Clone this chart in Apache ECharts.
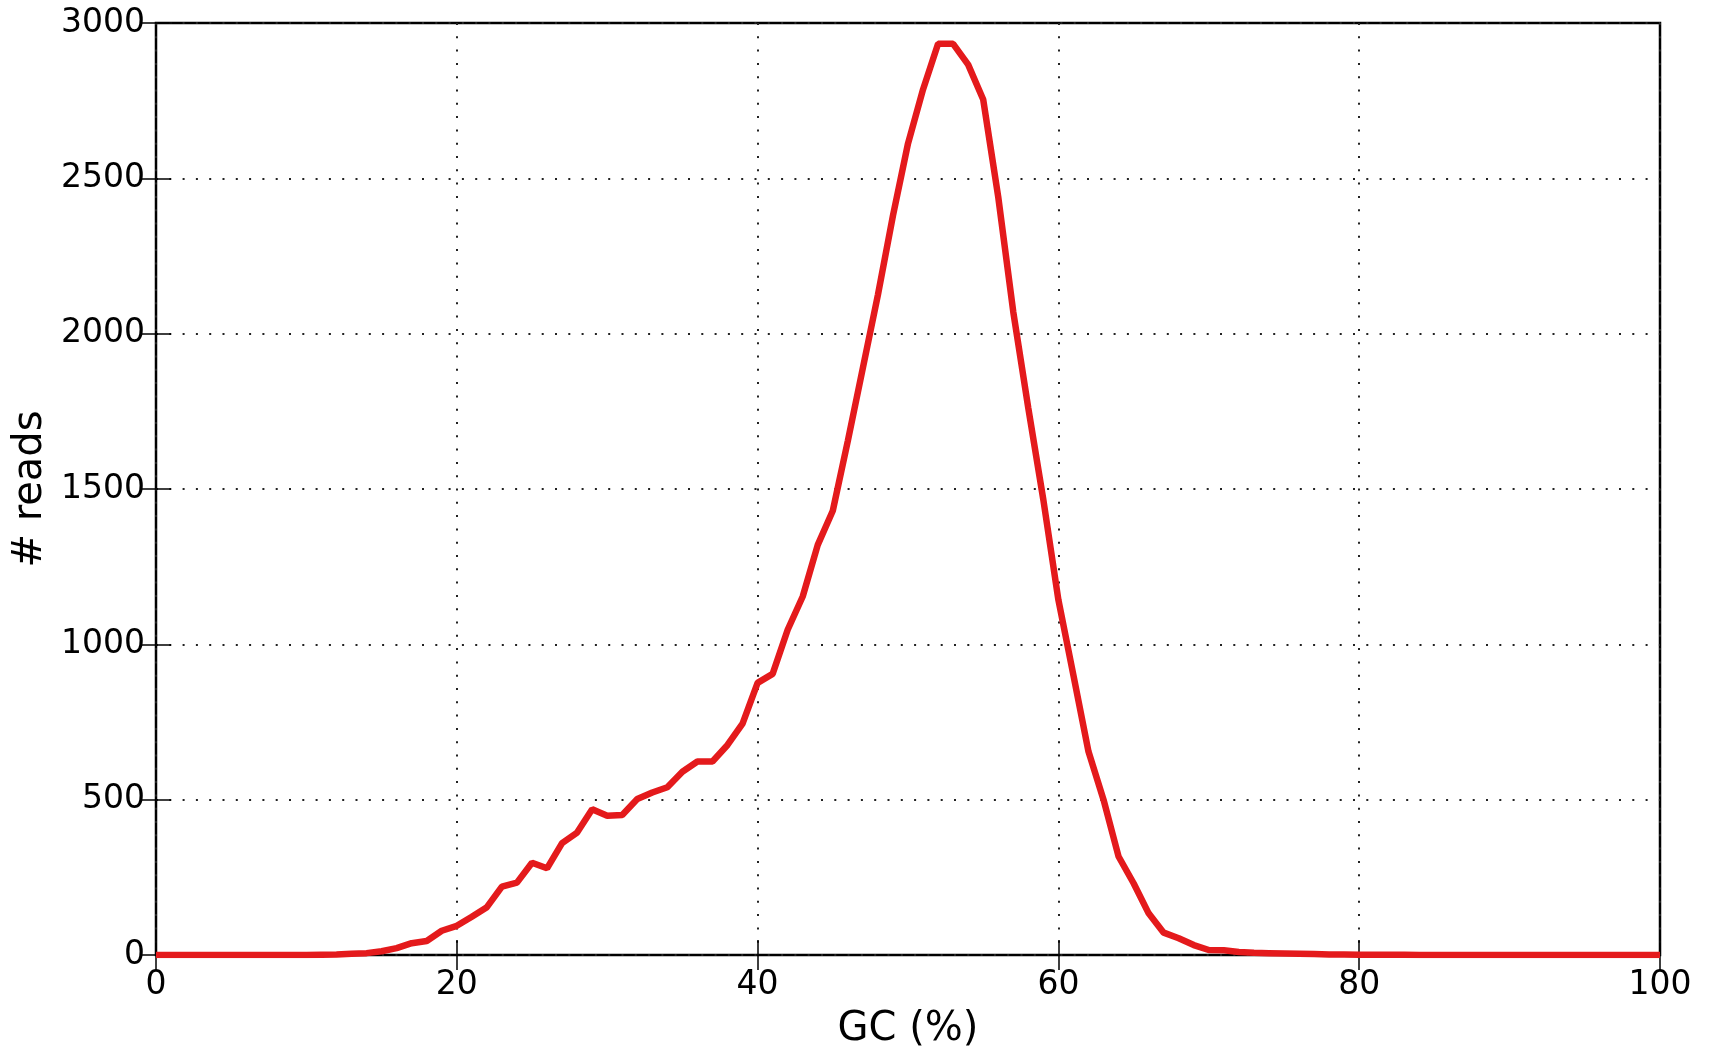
<!DOCTYPE html>
<html>
<head>
<meta charset="utf-8">
<script src="https://cdn.jsdelivr.net/npm/echarts@6/dist/echarts.min.js"></script>
<style>
  html, body { margin: 0; padding: 0; background: #fff; }
  #chart { width: 1713px; height: 1050px; }
</style>
</head>
<body>
<div id="chart"></div>
<script>
// GC content (%) on x, number of reads on y
var gc = [
    0, 1, 2, 3, 4, 5, 6, 7, 8, 9,
    10, 11, 12, 13, 14, 15, 16, 17, 18, 19,
    20, 21, 22, 23, 24, 25, 26, 27, 28, 29,
    30, 31, 32, 33, 34, 35, 36, 37, 38, 39,
    40, 41, 42, 43, 44, 45, 46, 47, 48, 49,
    50, 51, 52, 53, 54, 55, 56, 57, 58, 59,
    60, 61, 62, 63, 64, 65, 66, 67, 68, 69,
    70, 71, 72, 73, 74, 75, 76, 77, 78, 79,
    80, 81, 82, 83, 84, 85, 86, 87, 88, 89,
    90, 91, 92, 93, 94, 95, 96, 97, 98, 99,
    100
];
var reads = [
    0, 0, 0, 0, 0, 0, 0, 0, 0, 0,
    0, 1, 2, 4, 6, 12, 22, 38, 45, 78,
    94, 123, 154, 220, 233, 297, 279, 360, 394, 469,
    448, 451, 502, 523, 540, 590, 623, 623, 676, 745,
    876, 905, 1047, 1154, 1320, 1430, 1655, 1890, 2125, 2380,
    2612, 2786, 2933, 2933, 2866, 2754, 2440, 2070, 1760, 1465,
    1143, 900, 655, 500, 317, 231, 134, 72, 54, 32,
    16, 15, 10, 7, 6, 5, 4, 3, 2, 2,
    1, 1, 1, 1, 0, 0, 0, 0, 0, 0,
    0, 0, 0, 0, 0, 0, 0, 0, 0, 0,
    0
];
var xTicks = [0, 20, 40, 60, 80, 100];
var yTicks = [0, 500, 1000, 1500, 2000, 2500, 3000];

var points = [];
for (var i = 0; i < gc.length; ++i)
    points.push([gc[i], reads[i]]);

var font = 'DejaVu Sans';
var gridDots = {color: '#222', width: 2, type: [2, 11.3]};
var ticks = {show: true, inside: true, length: 15, lineStyle: {color: '#000', width: 1.5}};

var chart = echarts.init(document.getElementById('chart'));
chart.setOption({
    animation: false,
    grid: {
        left: 156, right: 53, top: 23, bottom: 95,
        outerBoundsMode: 'none', containLabel: false,
        show: true, borderColor: '#000', borderWidth: 2.5, backgroundColor: '#fff'
    },
    xAxis: [
        {
            type: 'value',
            min: xTicks[0], max: xTicks[xTicks.length - 1], interval: 20,
            name: 'GC (%)', nameLocation: 'middle', nameGap: 55,
            nameTextStyle: {fontFamily: font, fontSize: 40, color: '#000'},
            axisLine: {show: false},
            axisTick: ticks,
            axisLabel: {fontFamily: font, fontSize: 33, color: '#000', margin: 14,
                formatter: function (v) { return String(v); }},
            splitLine: {show: true, lineStyle: gridDots}
        },
        {
            type: 'value', position: 'top',
            min: xTicks[0], max: xTicks[xTicks.length - 1], interval: 20,
            axisLine: {show: false},
            axisTick: ticks,
            axisLabel: {show: false},
            splitLine: {show: false}
        }
    ],
    yAxis: [
        {
            type: 'value',
            min: yTicks[0], max: yTicks[yTicks.length - 1], interval: 500,
            name: '# reads', nameLocation: 'middle', nameGap: 100,
            nameTextStyle: {fontFamily: font, fontSize: 40, color: '#000'},
            axisLine: {show: false},
            axisTick: ticks,
            axisLabel: {fontFamily: font, fontSize: 33, color: '#000', margin: 11,
                formatter: function (v) { return String(v); }},
            splitLine: {show: true, lineStyle: gridDots}
        },
        {
            type: 'value', position: 'right',
            min: yTicks[0], max: yTicks[yTicks.length - 1], interval: 500,
            axisLine: {show: false},
            axisTick: ticks,
            axisLabel: {show: false},
            splitLine: {show: false}
        }
    ],
    series: [
        {
            type: 'line',
            data: points,
            showSymbol: false,
            clip: true,
            lineStyle: {color: '#e41a1c', width: 6.5},
            z: 3
        }
    ]
});
</script>
</body>
</html>
